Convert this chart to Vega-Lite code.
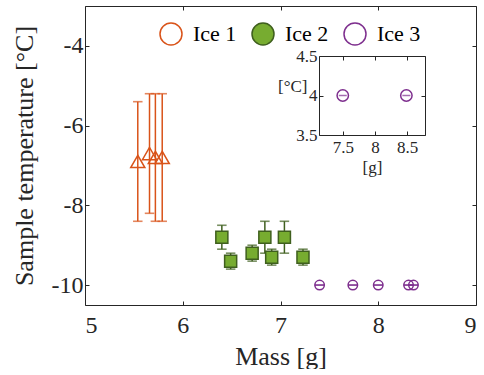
{
  "$schema": "https://vega.github.io/schema/vega-lite/v6.json",
  "background": "white",
  "padding": {"left": 11, "top": 5, "right": 0, "bottom": 0},
  "width": 391,
  "height": 299,
  "config": {
    "font": "Liberation Serif",
    "view": {"stroke": "#262626", "strokeWidth": 1},
    "axis": {
      "grid": false,
      "domain": false,
      "tickColor": "#262626",
      "tickSize": -4,
      "tickWidth": 1,
      "labelColor": "#262626",
      "titleColor": "#262626",
      "labelFont": "Liberation Serif",
      "titleFont": "Liberation Serif",
      "titleFontWeight": "normal"
    }
  },
  "datasets": {
    "ice": [
      {"series": "Ice 1", "mass": 5.54, "temp": -6.9, "lo": -8.4, "hi": -5.4},
      {"series": "Ice 1", "mass": 5.66, "temp": -6.7, "lo": -8.2, "hi": -5.2},
      {"series": "Ice 1", "mass": 5.72, "temp": -6.8, "lo": -8.4, "hi": -5.2},
      {"series": "Ice 1", "mass": 5.79, "temp": -6.8, "lo": -8.4, "hi": -5.2},
      {"series": "Ice 2", "mass": 6.40, "temp": -8.8, "lo": -9.1, "hi": -8.5},
      {"series": "Ice 2", "mass": 6.49, "temp": -9.4, "lo": -9.6, "hi": -9.2},
      {"series": "Ice 2", "mass": 6.71, "temp": -9.2, "lo": -9.4, "hi": -9.0},
      {"series": "Ice 2", "mass": 6.84, "temp": -8.8, "lo": -9.2, "hi": -8.4},
      {"series": "Ice 2", "mass": 6.91, "temp": -9.3, "lo": -9.5, "hi": -9.1},
      {"series": "Ice 2", "mass": 7.04, "temp": -8.8, "lo": -9.2, "hi": -8.4},
      {"series": "Ice 2", "mass": 7.23, "temp": -9.3, "lo": -9.5, "hi": -9.1},
      {"series": "Ice 3", "mass": 7.40, "temp": -10, "lo": -10, "hi": -10},
      {"series": "Ice 3", "mass": 7.74, "temp": -10, "lo": -10, "hi": -10},
      {"series": "Ice 3", "mass": 8.00, "temp": -10, "lo": -10, "hi": -10},
      {"series": "Ice 3", "mass": 8.31, "temp": -10, "lo": -10, "hi": -10},
      {"series": "Ice 3", "mass": 8.36, "temp": -10, "lo": -10, "hi": -10}
    ],
    "insetIce": [
      {"series": "Ice 3", "mass": 7.5, "temp": 4},
      {"series": "Ice 3", "mass": 8.49, "temp": 4}
    ]
  },
  "layer": [
    {
      "data": {"name": "ice"},
      "layer": [
        {
          "mark": {"type": "rule", "strokeWidth": 1.5},
          "encoding": {
            "x": {
              "field": "mass", "type": "quantitative",
              "scale": {"domain": [5, 9], "nice": false, "zero": false},
              "axis": {"values": [5, 6, 7, 8, 9], "title": "Mass [g]", "labelFontSize": 24, "titleFontSize": 26, "labelPadding": 12, "titlePadding": 6}
            },
            "y": {
              "field": "lo", "type": "quantitative",
              "scale": {"domain": [-10.5, -3], "nice": false, "zero": false},
              "axis": {"values": [-10, -8, -6, -4], "title": "Sample temperature [°C]", "labelFontSize": 24, "titleFontSize": 26, "labelExpr": "replace(datum.label, '−', '-')", "labelPadding": 6, "titlePadding": 14}
            },
            "y2": {"field": "hi"},
            "color": {
              "field": "series", "type": "nominal",
              "scale": {"range": ["#D95319", "#3F5F1E", "#7E2F8E"]},
              "legend": null
            }
          }
        },
        {
          "transform": [{"fold": ["lo", "hi"], "as": ["end", "val"]}],
          "mark": {"type": "tick", "orient": "horizontal", "size": 8, "thickness": 0.1, "filled": false, "strokeWidth": 1.5},
          "encoding": {
            "x": {"field": "mass", "type": "quantitative", "axis": {"orient": "top", "values": [5, 6, 7, 8, 9], "labels": false, "title": null}},
            "y": {"field": "val", "type": "quantitative", "axis": {"orient": "right", "values": [-10, -8, -6, -4], "labels": false, "title": null}},
            "color": {"field": "series", "type": "nominal", "legend": null}
          }
        },
        {
          "mark": {"type": "point", "strokeWidth": 1.5, "opacity": 1},
          "encoding": {
            "x": {"field": "mass", "type": "quantitative", "axis": null},
            "y": {"field": "temp", "type": "quantitative", "axis": null},
            "shape": {
              "field": "series", "type": "nominal",
              "scale": {"range": ["triangle-up", "square", "circle"]},
              "legend": null
            },
            "size": {
              "field": "series", "type": "nominal",
              "scale": {"range": [200, 90, 130]},
              "legend": null
            },
            "fill": {
              "field": "series", "type": "nominal",
              "scale": {"domain": ["Ice 1", "Ice 2", "Ice 3"], "range": ["transparent", "#77AC30", "transparent"]},
              "legend": {
                "title": null,
                "orient": "none",
                "direction": "horizontal",
                "legendX": 74,
                "legendY": 16,
                "padding": 0,
                "labelFont": "Liberation Serif",
                "labelFontSize": 22,
                "labelColor": "black",
                "labelOffset": 10,
                "columnPadding": 12,
                "symbolSize": 484,
                "symbolStrokeWidth": 1.5,
                "encode": {
                  "symbols": {
                    "size": {"value": 484},
                    "shape": {"value": {"signal": "datum.value === 'Ice 1' ? 'M0,-1L0,1M-0.36,-1L0.36,-1M-0.36,1L0.36,1M0,-0.42L0.47,0.38L-0.47,0.38Z' : datum.value === 'Ice 2' ? 'M0,-1L0,-0.3M0,0.3L0,1M-0.36,-1L0.36,-1M-0.36,1L0.36,1M-0.3,-0.3L0.3,-0.3L0.3,0.3L-0.3,0.3Z' : 'M0,-1L0,1M-0.36,-1L0.36,-1M-0.36,1L0.36,1M0.36,0A0.36,0.36,0,1,1,-0.36,0A0.36,0.36,0,1,1,0.36,0Z'"}}
                  }
                }
              }
            },
            "stroke": {
              "field": "series", "type": "nominal",
              "scale": {"domain": ["Ice 1", "Ice 2", "Ice 3"], "range": ["#D95319", "#3F5F1E", "#7E2F8E"]}
            }
          }
        }
      ],
      "resolve": {"axis": {"x": "independent", "y": "independent"}}
    },
    {
      "data": {"name": "insetIce"},
      "layer": [
        {
          "mark": {"type": "tick", "orient": "horizontal", "size": 8, "thickness": 1.5, "color": "#7E2F8E"},
          "encoding": {
            "x": {
              "field": "mass", "type": "quantitative",
              "scale": {"domain": [7.13, 8.78], "range": [234, 340], "nice": false, "zero": false},
              "axis": {"offset": -170, "domain": true, "domainColor": "#262626", "domainWidth": 1, "values": [7.5, 8, 8.5], "labelExpr": "'' + datum.value", "title": "[g]", "labelFontSize": 17, "titleFontSize": 17, "labelPadding": 8, "titlePadding": 4}
            },
            "y": {
              "field": "temp", "type": "quantitative",
              "scale": {"domain": [3.5, 4.5], "range": [129, 50], "nice": false, "zero": false},
              "axis": {"offset": -234, "domain": true, "domainColor": "#262626", "domainWidth": 1, "values": [3.5, 4, 4.5], "labelExpr": "'' + datum.value", "title": "[°C]", "titleAngle": 0, "titleAlign": "right", "titleBaseline": "middle", "titleX": -12, "titleY": 80, "labelFontSize": 17, "titleFontSize": 17, "labelPadding": 6}
            }
          }
        },
        {
          "mark": {"type": "point", "shape": "circle", "size": 130, "strokeWidth": 1.5, "color": "#7E2F8E", "opacity": 1},
          "encoding": {
            "x": {"field": "mass", "type": "quantitative", "axis": {"orient": "top", "offset": -50, "domain": true, "domainColor": "#262626", "domainWidth": 1, "values": [7.5, 8, 8.5], "labels": false, "title": null}},
            "y": {"field": "temp", "type": "quantitative", "axis": {"orient": "right", "offset": -51, "domain": true, "domainColor": "#262626", "domainWidth": 1, "values": [3.5, 4, 4.5], "labels": false, "title": null}}
          }
        }
      ],
      "resolve": {"axis": {"x": "independent", "y": "independent"}}
    }
  ],
  "resolve": {
    "scale": {"x": "independent", "y": "independent"},
    "axis": {"x": "independent", "y": "independent"}
  }
}
